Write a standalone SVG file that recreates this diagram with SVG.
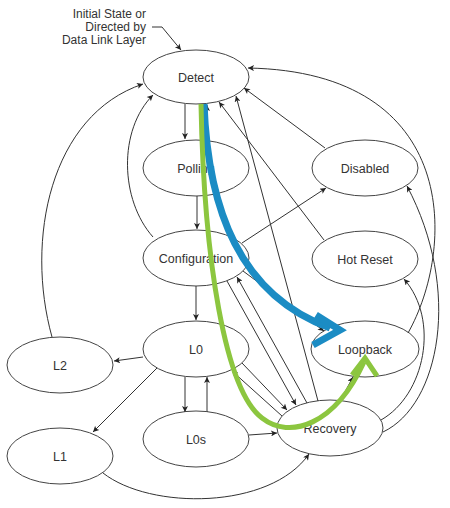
<svg xmlns="http://www.w3.org/2000/svg" width="450" height="508" viewBox="0 0 450 508">
<style>
.n ellipse{fill:#fff;stroke:#444;stroke-width:1}
text{font-family:"Liberation Sans",Arial,sans-serif;font-size:12.5px;fill:#333}
.n text{text-anchor:middle}
.lbl text{font-size:12px;text-anchor:end}
.c path{fill:none;stroke:#333;stroke-width:1;marker-end:url(#ah)}
</style>
<defs>
<marker id="ah" viewBox="0 0 10 10" refX="10" refY="5" markerWidth="8" markerHeight="6" markerUnits="userSpaceOnUse" orient="auto">
<path d="M0,0 L10,5 L0,10 L2.5,5 z" fill="#222"/>
</marker>
</defs>
<rect width="450" height="508" fill="#fff"/>
<g id="label-initial" class="lbl">
<text x="146" y="18">Initial State or</text>
<text x="146" y="31">Directed by</text>
<text x="146" y="44">Data Link Layer</text>
</g>
<g id="nodes">
<g id="detect" class="n"><ellipse cx="196" cy="77" rx="53" ry="27"/><text x="196" y="82">Detect</text></g>
<g id="polling" class="n"><ellipse cx="196" cy="168" rx="53" ry="28"/><text x="196" y="173">Polling</text></g>
<g id="configuration" class="n"><ellipse cx="196" cy="258" rx="53" ry="28"/><text x="196" y="263">Configuration</text></g>
<g id="l0" class="n"><ellipse cx="196" cy="349" rx="53" ry="28"/><text x="196" y="354">L0</text></g>
<g id="l2" class="n"><ellipse cx="60" cy="365" rx="53" ry="28"/><text x="60" y="370">L2</text></g>
<g id="l1" class="n"><ellipse cx="60" cy="456" rx="53" ry="28"/><text x="60" y="461">L1</text></g>
<g id="l0s" class="n"><ellipse cx="196" cy="439" rx="53" ry="28"/><text x="196" y="444">L0s</text></g>
<g id="recovery" class="n"><ellipse cx="330" cy="428" rx="53" ry="28"/><text x="330" y="433">Recovery</text></g>
<g id="loopback" class="n"><ellipse cx="365" cy="349" rx="54" ry="28"/><text x="365" y="354">Loopback</text></g>
<g id="disabled" class="n"><ellipse cx="365" cy="168" rx="53" ry="28"/><text x="365" y="173">Disabled</text></g>
<g id="hotreset" class="n"><ellipse cx="365" cy="259" rx="53" ry="28"/><text x="365" y="264">Hot Reset</text></g>
</g>
<g id="connectors" class="c">
<path d="M152 27 H162 L181 50"/>
<path d="M185 104 V139"/>
<path d="M207 140 V105"/>
<path d="M197 196 V229"/>
<path d="M196 286 V320"/>
<path d="M153 237 C 120 200, 118 130, 153 95"/>
<path d="M52 337 C 25 240, 50 115, 143 84"/>
<path d="M325 148 L 244 88"/>
<path d="M324 240 L 219 102"/>
<path d="M318 401 L 236 96"/>
<path d="M408 333 C 455 250, 462 72, 248 68"/>
<path d="M242 243 L 326 188"/>
<path d="M243 271 L 324 331"/>
<path d="M227 281 L 296 405"/>
<path d="M307 403 L 237 277"/>
<path d="M242 363 L 287 410"/>
<path d="M282 416 L 232 371"/>
<path d="M143 357 L 114 361"/>
<path d="M157 368 L 93 432"/>
<path d="M185 377 V412"/>
<path d="M207 412 V377"/>
<path d="M249 435 L 277 433"/>
<path d="M103 473 C 150 510, 270 510, 309 454"/>
<path d="M340 401 L 353 377"/>
<path d="M381 420 C 425 395, 440 320, 404 279"/>
<path d="M383 432 C 440 405, 462 290, 407 186"/>
</g>
<g id="highlight-paths" fill="none">
<path d="M204 104 C 208 210, 240 295, 330 328" stroke="#1b8cc4" stroke-width="7"/>
<polyline points="316,315 340,330 313,345" stroke="#1b8cc4" stroke-width="7" stroke-linejoin="miter"/>
<path d="M201 104 C 204 260, 225 390, 262 418 C 290 440, 335 425, 364 362" stroke="#8cc63f" stroke-width="5"/>
<polyline points="352,375 365,358 377,376" stroke="#8cc63f" stroke-width="5" stroke-linejoin="miter"/>
</g>
</svg>
